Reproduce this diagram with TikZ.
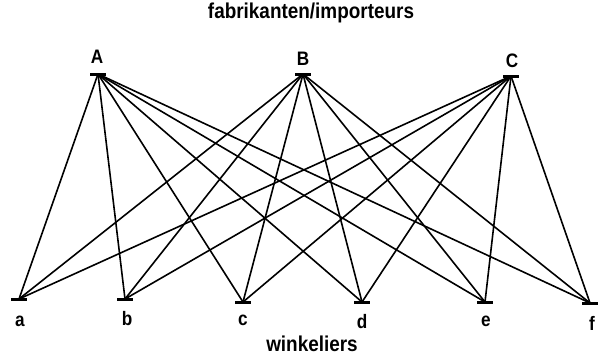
\documentclass[tikz,border=0pt]{standalone}
\usepackage{fontspec}
\setmainfont{Liberation Sans}[FakeStretch=0.88]
\begin{document}
\begin{tikzpicture}[x=1pt,y=-1pt,
  bar/.style={fill=black,draw=none,minimum width=16pt,minimum height=3pt,inner sep=0pt},
  lbl/.style={font=\bfseries\fontsize{19.5}{20}\selectfont,inner sep=0pt},
  ttl/.style={font=\bfseries\fontsize{21.5}{22}\selectfont,inner sep=0pt},
  edge/.style={line width=1.6pt}]
\useasboundingbox (0,0) rectangle (600,356);
\node[bar] (A) at (98,74) {};
\node[bar] (B) at (303,74) {};
\node[bar] (C) at (511,76) {};
\node[bar] (a) at (19,299) {};
\node[bar] (b) at (125,299) {};
\node[bar] (c) at (243,302) {};
\node[bar] (d) at (362,302) {};
\node[bar] (e) at (485,302) {};
\node[bar] (f) at (590,303) {};
\node[lbl] (lA) at (97,57) {A};
\node[lbl] (lB) at (303,59) {B};
\node[lbl] (lC) at (512,61) {C};
\node[lbl] (la) at (20,321) {a};
\node[lbl] (lb) at (127,319) {b};
\node[lbl] (lc) at (243,320) {c};
\node[lbl] (ld) at (362,322) {d};
\node[lbl] (le) at (486,321) {e};
\node[lbl] (lf) at (592,323) {f};
\node[ttl] (top) at (311,13) {fabrikanten/importeurs};
\node[ttl,anchor=base] (bot) at (312,351) {winkeliers};
\foreach \s in {A,B,C}{
  \foreach \t in {a,b,c,d,e,f}{
    \draw[edge] (\s.center) -- (\t.center);
  }
}
\end{tikzpicture}
\end{document}
